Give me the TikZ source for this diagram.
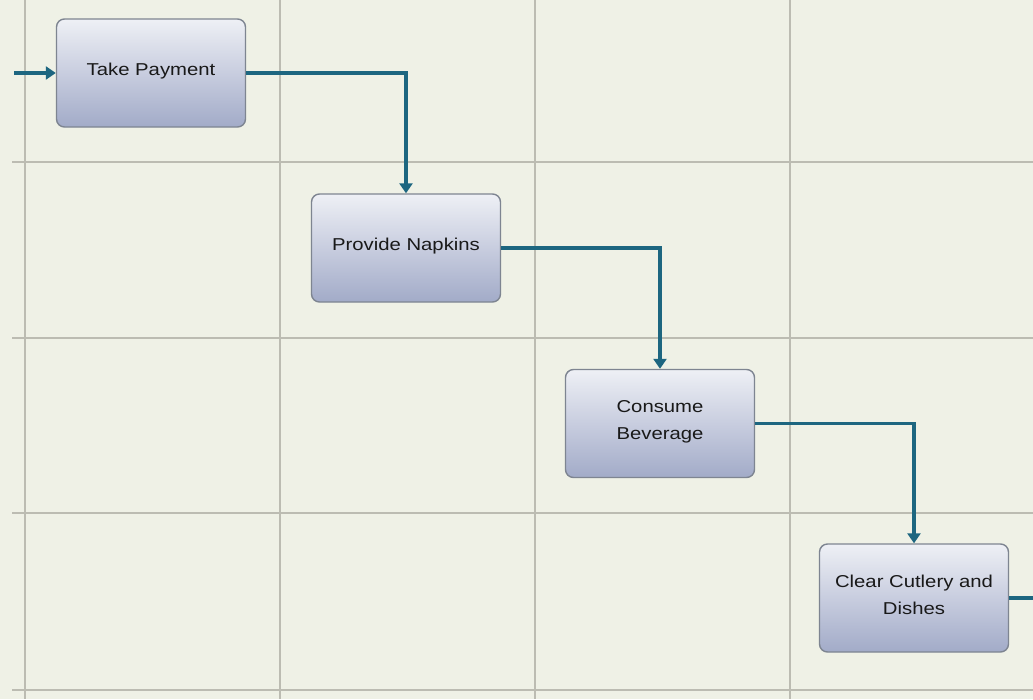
\documentclass[tikz,border=0pt]{standalone}
\usepackage{fontspec}
\setmainfont{Liberation Sans}
\newfontfamily\boxfont[FakeStretch=1.18]{Liberation Sans}
\usetikzlibrary{arrows.meta}
\definecolor{bg}{HTML}{EFF1E6}
\definecolor{gridc}{HTML}{BCBCB2}
\definecolor{flowc}{HTML}{1D6680}
\definecolor{boxtop}{HTML}{EEF0F5}
\definecolor{boxmid}{HTML}{C8CDDF}
\definecolor{boxbot}{HTML}{A2ABC8}
\definecolor{boxline}{HTML}{7E8591}
\tikzset{
  task/.style={draw=boxline, line width=1.4pt, rounded corners=8pt,
    top color=boxtop, bottom color=boxbot, middle color=boxmid,
    minimum width=189pt, minimum height=108pt, align=center,
    text depth=7pt,
    font=\boxfont\fontsize{17.2}{27}\selectfont, text=black!90},
  gridline/.style={draw=gridc, line width=1.8pt},
  flow/.style={draw=flowc, line width=3.2pt, -{Triangle[width=13pt,length=10pt]}}
}
\begin{document}
\begin{tikzpicture}[x=1pt,y=-1pt]
\useasboundingbox (0,0) rectangle (1033,699);
\fill[bg] (0,0) rectangle (1033,699);
% grid
\foreach \gx in {25,280,535,790} \draw[gridline] (\gx,0) -- (\gx,699);
\foreach \gy in {162,338,513,690} \draw[gridline] (12,\gy) -- (1033,\gy);
% tasks
\node[task] (tp) at (151,73) {Take Payment};
\node[task] (pn) at (406,248) {Provide Napkins};
\node[task] (cb) at (660,423.5) {Consume\\Beverage};
\node[task] (cc) at (914,598) {Clear Cutlery and\\Dishes};
% connectors
\coordinate (in) at (14,73);
\coordinate (out) at (1033,598);
\draw[flow] (in) -- (tp.west);
\draw[flow] (tp.east) -| (pn.north);
\draw[flow] (pn.east) -| (cb.north);
\draw[flow] (cb.east) -| (cc.north);
\draw[draw=flowc, line width=3.2pt] (cc.east) -- (out);
\end{tikzpicture}
\end{document}
